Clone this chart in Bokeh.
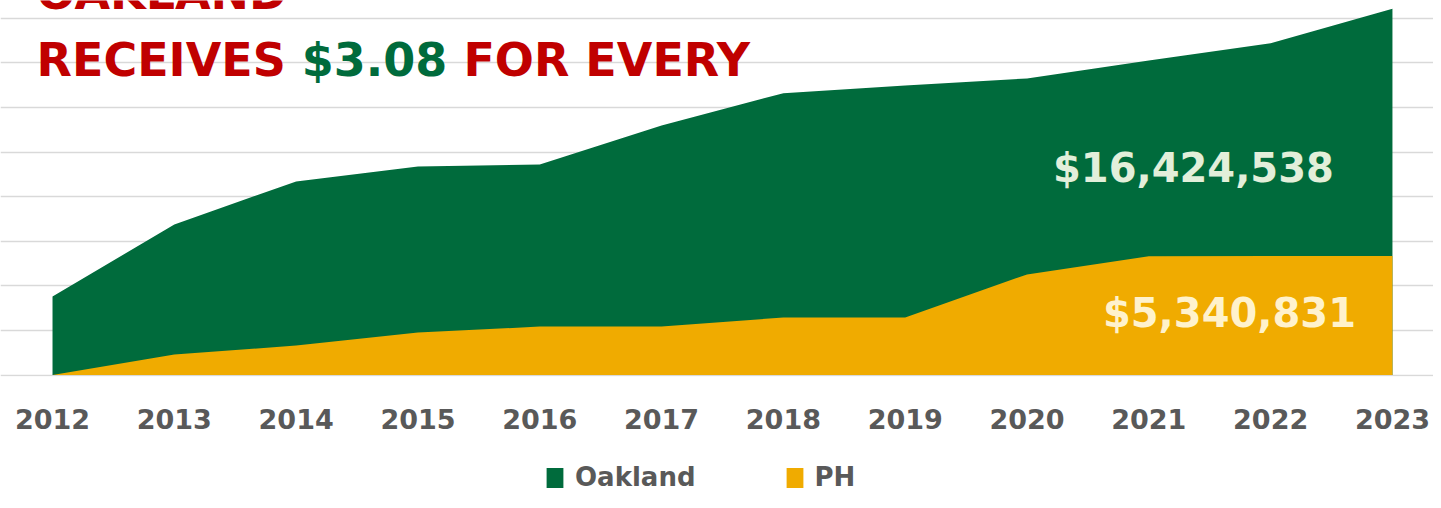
from bokeh.plotting import figure
from bokeh.layouts import column
from bokeh.models import Range1d, FixedTicker, Legend, LegendItem
from bokeh.core.properties import value
from bokeh.embed import file_html
from bokeh.resources import INLINE

# ---- data ----
years = [2012, 2013, 2014, 2015, 2016, 2017, 2018, 2019, 2020, 2021, 2022, 2023]
oakland = [3.52e6, 6.75e6, 8.68e6, 9.35e6, 9.44e6, 11.19e6, 12.64e6, 12.98e6,
           13.30e6, 14.10e6, 14.88e6, 16424538]
ph = [0.0, 0.92e6, 1.32e6, 1.91e6, 2.17e6, 2.17e6, 2.58e6, 2.58e6,
      4.51e6, 5.33e6, 5.34e6, 5340831]
series_names = ["Oakland", "PH"]
oakland_label = "$16,424,538"
ph_label = "$5,340,831"
title_top = "OAKLAND"
title_parts = ["RECEIVES", "$3.08", "FOR EVERY"]
grid_values = [0, 2e6, 4e6, 6e6, 8e6, 10e6, 12e6, 14e6, 16e6]

GREEN = "#006B3C"
GOLD = "#F0AB00"
RED = "#C00000"
GRAY = "#595959"
FONT = "DejaVu Sans"

W = 1433
p = figure(width=W, height=450, output_backend="svg", toolbar_location=None,
           x_range=Range1d(2011.573, 2023.337),
           y_range=Range1d(-0.067e6, 16.794e6),
           y_axis_location=None,
           min_border_left=0, min_border_right=0, min_border_top=0,
           min_border_bottom=74)
p.outline_line_color = None
p.background_fill_color = "white"

r_oak = p.varea(x=years, y1=[0] * len(years), y2=oakland, fill_color=GREEN)
r_ph = p.varea(x=years, y1=[0] * len(years), y2=ph, fill_color=GOLD)

p.xgrid.visible = False
p.ygrid.ticker = FixedTicker(ticks=grid_values)
p.ygrid.grid_line_color = "#D9D9D9"
p.ygrid.grid_line_width = 1.6

ax = p.xaxis[0]
ax.ticker = FixedTicker(ticks=years)
ax.axis_line_color = None
ax.major_tick_line_color = None
ax.minor_tick_line_color = None
ax.major_label_text_font = FONT
ax.major_label_text_font_style = "bold"
ax.major_label_text_font_size = "27px"
ax.major_label_text_color = GRAY
ax.major_label_standoff = 26

# title lines
tx = 2011.869
p.text(x=[tx], y=[16.377e6], text=[title_top], y_offset=-17, text_font=value(FONT),
       text_font_style="bold", text_font_size="46px", text_color=RED,
       text_baseline="alphabetic")
em = 46
offsets = [0, 5.767 * em, 9.279 * em]
colors = [RED, GREEN, RED]
for part, off, col in zip(title_parts, offsets, colors):
    p.text(x=[tx], y=[13.386e6], text=[part], x_offset=off, y_offset=-16,
           text_font=value(FONT), text_font_style="bold", text_font_size="46px",
           text_color=col, text_baseline="alphabetic")

# value labels
p.text(x=[2021.366], y=[8.62e6], text=[oakland_label], y_offset=-15,
       text_font=value(FONT), text_font_style="bold", text_font_size="40px",
       text_color="#E2EFDA", text_align="center", text_baseline="alphabetic")
p.text(x=[2021.662], y=[2.175e6], text=[ph_label], y_offset=-14,
       text_font=value(FONT), text_font_style="bold", text_font_size="40px",
       text_color="#FFF2CC", text_align="center", text_baseline="alphabetic")

# legend strip (separate small figure below the chart; its series lie off-range)
lg = figure(width=W, height=42, output_backend="svg", toolbar_location=None,
            x_range=Range1d(0, 1), y_range=Range1d(0, 1),
            x_axis_location=None, y_axis_location=None,
            min_border_left=0, min_border_right=0, min_border_top=0,
            min_border_bottom=0)
lg.outline_line_color = None
lg.grid.visible = False
k_oak = lg.varea(x=years, y1=[0] * len(years), y2=oakland, fill_color=GREEN)
k_ph = lg.varea(x=years, y1=[0] * len(years), y2=ph, fill_color=GOLD)
legend = Legend(items=[LegendItem(label=series_names[0], renderers=[k_oak]),
                       LegendItem(label=series_names[1], renderers=[k_ph])],
                orientation="horizontal", location=(544, 0),
                glyph_width=21, glyph_height=25, label_standoff=10, spacing=88,
                label_text_font=FONT, label_text_font_style="bold",
                label_text_font_size="26px", label_text_color=GRAY,
                padding=0, margin=0, border_line_alpha=0, background_fill_alpha=0)
lg.add_layout(legend)

layout = column(p, lg, spacing=0)
open("out.html", "w").write(file_html(layout, INLINE))
